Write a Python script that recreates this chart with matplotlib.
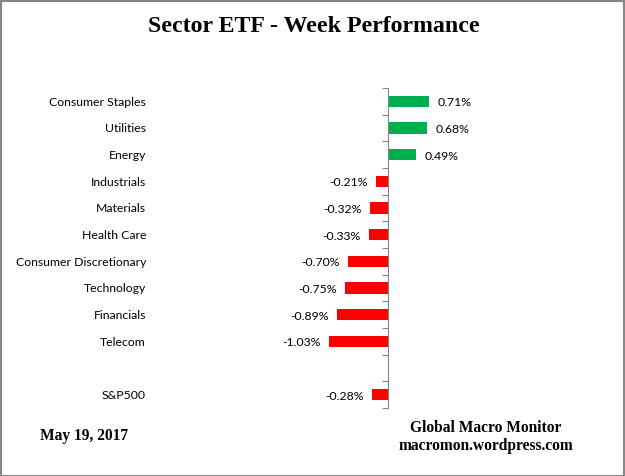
import matplotlib.pyplot as plt
from matplotlib.patches import Rectangle
from matplotlib.transforms import blended_transform_factory

sectors = ['Consumer Staples', 'Utilities', 'Energy', 'Industrials', 'Materials',
           'Health Care', 'Consumer Discretionary', 'Technology', 'Financials',
           'Telecom', '', 'S&P500']
values = [0.71, 0.68, 0.49, -0.21, -0.32, -0.33, -0.70, -0.75, -0.89, -1.03, None, -0.28]

green = '#00B050'
red = '#FF0000'
gray = '#868686'

fig = plt.figure(figsize=(6.25, 4.76), dpi=100)
ax = fig.add_axes([200.5 / 625, 68 / 476, 380.8 / 625, 320 / 476])

for i, v in enumerate(values):
    if v is None:
        continue
    ax.barh(i, v, height=0.42, color=green if v > 0 else red)
    if v > 0:
        ax.annotate(f'{v:.2f}%', (v, i), xytext=(6, -1), textcoords='offset points',
                    ha='left', va='center', fontsize=8.8, family='Lato')
    else:
        ax.annotate(f'{v:.2f}%', (v, i), xytext=(-6, -1), textcoords='offset points',
                    ha='right', va='center', fontsize=8.8, family='Lato')

trans = blended_transform_factory(fig.transFigure, ax.transData)
for i, name in enumerate(sectors):
    ax.text(146 / 625, i + 0.03, name, transform=trans, ha='right', va='center',
            fontsize=8.8, family='Lato')

ax.set_xlim(-3.25, 3.35)
ax.set_ylim(11.5, -0.5)
ax.set_yticks([i - 0.5 for i in range(13)])
ax.set_yticklabels([])
ax.set_xticks([])
ax.tick_params(axis='y', direction='out', length=4, color=gray)
for s in ['top', 'bottom', 'right']:
    ax.spines[s].set_visible(False)
ax.spines['left'].set_position(('data', 0))
ax.spines['left'].set_color(gray)

fig.text(314 / 625, 1 - 27 / 476, 'Sector ETF - Week Performance', ha='center', va='center',
         fontsize=17.2, fontweight='bold', family='Liberation Serif')
fig.text(40 / 625, 1 - 436 / 476, 'May 19, 2017', ha='left', va='center',
         fontsize=11.2, fontweight='bold', family='Liberation Serif')
fig.text(486 / 625, 1 - 428 / 476, 'Global Macro Monitor', ha='center', va='center',
         fontsize=11.2, fontweight='bold', family='Liberation Serif')
fig.text(486 / 625, 1 - 446 / 476, 'macromon.wordpress.com', ha='center', va='center',
         fontsize=11.2, fontweight='bold', family='Liberation Serif')

fig.patches.append(Rectangle((0.001, 0.001), 0.997, 0.996, transform=fig.transFigure,
                             fill=False, edgecolor=gray, linewidth=1.5))

fig.savefig('out.png', dpi=100)
